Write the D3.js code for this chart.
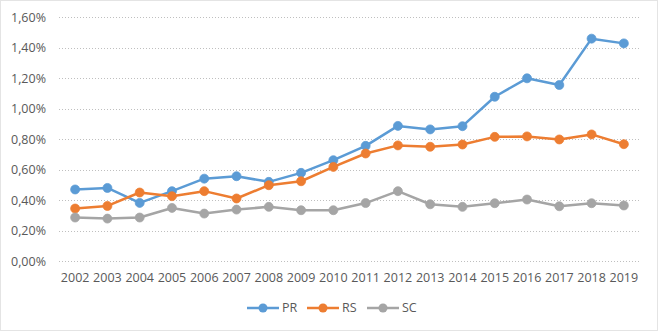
<!DOCTYPE html>
<html>
<head>
<meta charset="utf-8">
<script src="https://cdn.jsdelivr.net/npm/d3@7"></script>
<style>
  body { margin: 0; background: #fff; }
  text { font-family: "Open Sans", "Noto Sans", sans-serif; fill: #595959; }
</style>
</head>
<body>
<div id="chart"></div>
<script>
var years = ["2002","2003","2004","2005","2006","2007","2008","2009","2010",
  "2011","2012","2013","2014","2015","2016","2017","2018","2019"];
var pr = [0.469,0.479,0.381,0.458,0.540,0.556,0.519,0.578,0.661,0.755,0.886,0.863,0.884,1.077,1.198,1.154,1.458,1.427];
var rs = [0.344,0.361,0.449,0.425,0.458,0.410,0.497,0.523,0.617,0.705,0.758,0.749,0.764,0.814,0.817,0.797,0.830,0.766];
var sc = [0.285,0.278,0.285,0.348,0.311,0.337,0.355,0.333,0.333,0.380,0.458,0.372,0.355,0.379,0.403,0.359,0.379,0.364];
var seriesNames = ["PR", "RS", "SC"];
var seriesColors = ["#5B9BD5", "#ED7D31", "#A5A5A5"];
var yTicks = [0, 0.2, 0.4, 0.6, 0.8, 1.0, 1.2, 1.4, 1.6];

var width = 658, height = 332;
var margin = {top: 17, left: 59, right: 18, bottom: 71};

var svg = d3.select("#chart").append("svg")
    .attr("width", width)
    .attr("height", height);

// outer dotted border
svg.append("rect")
    .attr("x", 0.5).attr("y", 0.5)
    .attr("width", width - 1).attr("height", height - 2)
    .attr("fill", "none")
    .attr("stroke", "#c8c8c8")
    .attr("stroke-dasharray", "1,1");

var x = d3.scaleBand()
    .domain(years)
    .range([margin.left, width - margin.right]);

var y = d3.scaleLinear()
    .domain([0, 1.6])
    .range([height - margin.bottom, margin.top]);

var fmt = function (d) { return d.toFixed(2).replace(".", ",") + "%"; };

// grid lines
svg.append("g")
    .selectAll("line")
    .data(yTicks)
    .enter().append("line")
    .attr("x1", margin.left)
    .attr("x2", width - margin.right)
    .attr("y1", function (d) { return Math.round(y(d)) + 0.5; })
    .attr("y2", function (d) { return Math.round(y(d)) + 0.5; })
    .attr("stroke", "#bfbfbf")
    .attr("stroke-dasharray", "1,2");

// y axis labels
var yAxis = d3.axisLeft(y).tickValues(yTicks).tickFormat(fmt).tickSize(0).tickPadding(13);
svg.append("g")
    .attr("transform", "translate(" + margin.left + ",0)")
    .call(yAxis)
    .call(function (g) { g.select(".domain").remove(); })
    .selectAll("text")
    .attr("font-size", 12.5)
    .style("font-family", "'Open Sans', sans-serif")
    .attr("fill", "#595959");

// x axis labels
var xAxis = d3.axisBottom(x).tickSize(0).tickPadding(12);
svg.append("g")
    .attr("transform", "translate(0," + (height - margin.bottom) + ")")
    .call(xAxis)
    .call(function (g) { g.select(".domain").remove(); })
    .selectAll("text")
    .attr("font-size", 12.5)
    .style("font-family", "'Open Sans', sans-serif")
    .attr("fill", "#595959");

var data = [pr, rs, sc];
var line = d3.line()
    .x(function (d, i) { return x(years[i]) + x.bandwidth() / 2; })
    .y(function (d) { return y(d); });

data.forEach(function (vals, s) {
    var g = svg.append("g");
    g.append("path")
        .datum(vals)
        .attr("d", line)
        .attr("fill", "none")
        .attr("stroke", seriesColors[s])
        .attr("stroke-width", 2.5)
        .attr("stroke-linejoin", "round");
    g.selectAll("circle")
        .data(vals)
        .enter().append("circle")
        .attr("cx", function (d, i) { return x(years[i]) + x.bandwidth() / 2; })
        .attr("cy", function (d) { return y(d); })
        .attr("r", 4.5)
        .attr("fill", seriesColors[s])
        .attr("stroke", seriesColors[s])
        .attr("stroke-width", 0.75);
});

// legend
var legend = svg.append("g").attr("transform", "translate(247,308)");
seriesNames.forEach(function (name, i) {
    var lg = legend.append("g").attr("transform", "translate(" + (i * 60) + ",0)");
    lg.append("line")
        .attr("x1", 0).attr("x2", 32)
        .attr("y1", 0).attr("y2", 0)
        .attr("stroke", seriesColors[i])
        .attr("stroke-width", 2.5);
    lg.append("circle")
        .attr("cx", 16).attr("cy", 0).attr("r", 4.5)
        .attr("fill", seriesColors[i]);
    lg.append("text")
        .attr("x", 35).attr("y", 0)
        .attr("dy", "0.35em")
        .attr("font-size", 12.5)
        .text(name);
});
</script>
</body>
</html>
